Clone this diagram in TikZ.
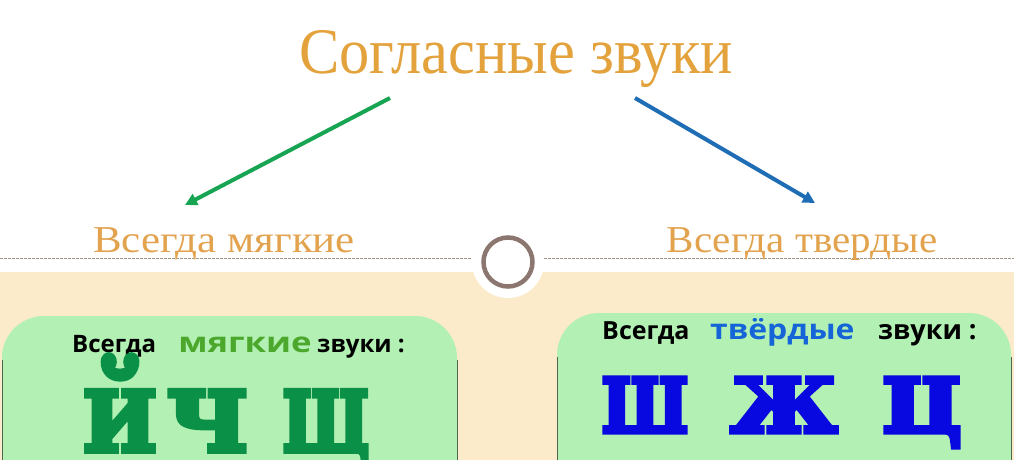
\documentclass[tikz,border=0pt]{standalone}
\usepackage{fontspec}
\setmainfont{Liberation Serif}
\newfontfamily\sansfnt{Open Sans}
\newfontfamily\heavyfnt[BoldFeatures={FakeBold=3}]{DejaVu Serif}
\usetikzlibrary{arrows.meta}
\definecolor{titleorange}{HTML}{E3A23C}
\definecolor{headorange}{HTML}{E2A24E}
\definecolor{arrowgreen}{HTML}{17A553}
\definecolor{arrowblue}{HTML}{1F6DB4}
\definecolor{cream}{HTML}{FBEBCB}
\definecolor{boxgreen}{HTML}{B2F0B4}
\definecolor{edgegray}{HTML}{4F6650}
\definecolor{dashgray}{HTML}{A09486}
\definecolor{ringbrown}{HTML}{8C7670}
\definecolor{softgreen}{HTML}{4CA82C}
\definecolor{hardblue}{HTML}{1565D8}
\definecolor{lettergreen}{HTML}{0B9048}
\definecolor{letterblue}{HTML}{0808E0}
\tikzset{
  heading/.style={text=headorange,font=\fontsize{38}{38}\selectfont,anchor=base,inner sep=0pt},
  arrowline/.style={line width=4pt,-{Triangle[length=12pt,width=12pt]}},
  soundbox/.style={fill=boxgreen,rounded corners=42pt},
  boxedge/.style={draw=edgegray,line width=1pt},
  word/.style={font=\sansfnt\bfseries\fontsize{#1}{#1}\selectfont,anchor=base west,inner sep=0pt},
  bigletter/.style={font=\heavyfnt\bfseries\fontsize{#1}{#1}\selectfont,anchor=base,inner sep=0pt},
}
\begin{document}
\begin{tikzpicture}[x=1pt,y=-1pt]
  \useasboundingbox (0,0) rectangle (1014,460);
  \clip (0,0) rectangle (1014,460);
  \fill[white] (0,0) rectangle (1014,460);
  \fill[cream] (0,272) rectangle (1014,460);
  \draw[dashgray,line width=0.8pt,dash pattern=on 3pt off 1pt] (0,258) -- (1014,258);
  % boxes
  \fill[soundbox] (2,316) rectangle (457,540);
  \draw[boxedge] (2,360) -- (2,460) (457,360) -- (457,460);
  \fill[soundbox] (557,313) rectangle (1011,540);
  \draw[boxedge] (557,357) -- (557,460) (1011,357) -- (1011,460);
  % ring
  \fill[white] (508,262) circle (36pt);
  \draw[ringbrown,line width=4.5pt] (508,262) circle (24.5pt);
  % title and arrows
  \node[text=titleorange,font=\fontsize{65}{65}\selectfont,anchor=base,inner sep=0pt,xscale=0.93] (title) at (516,74) {Согласные звуки};
  \coordinate (gfrom) at (390,98);
  \coordinate (gto) at (185,205);
  \coordinate (bfrom) at (635,98);
  \coordinate (bto) at (815,203);
  \draw[arrowline,arrowgreen] (gfrom) -- (gto);
  \draw[arrowline,arrowblue] (bfrom) -- (bto);
  \node[heading,xscale=1.13] (soft) at (224,252) {Всегда мягкие};
  \node[heading,xscale=1.08] (hard) at (802,252) {Всегда твердые};
  % box texts
  \node[word=24] (softa) at (72,352) {Всегда};
  \node[word=28,text=softgreen,xscale=1.24] (softb) at (178,352) {мягкие};
  \node[word=24] (softc) at (317,352) {звуки :};
  \node[word=25] (harda) at (602,339) {Всегда};
  \node[word=28,text=hardblue,xscale=1.14] (hardb) at (710,339) {твёрдые};
  \node[word=27] (hardc) at (878,339) {звуки :};
  \node[bigletter=120,text=lettergreen,xscale=0.85] (j) at (120,452) {й};
  \node[bigletter=120,text=lettergreen,xscale=0.95] (ch) at (207,452) {ч};
  \node[bigletter=120,text=lettergreen,xscale=0.68] (shch) at (326,452) {щ};
  \node[bigletter=108,text=letterblue,xscale=0.76] (sh) at (645,433) {ш};
  \node[bigletter=108,text=letterblue,xscale=1.0] (zh) at (784,433) {ж};
  \node[bigletter=108,text=letterblue,xscale=1.02] (ts) at (922,433) {ц};
\end{tikzpicture}
\end{document}
